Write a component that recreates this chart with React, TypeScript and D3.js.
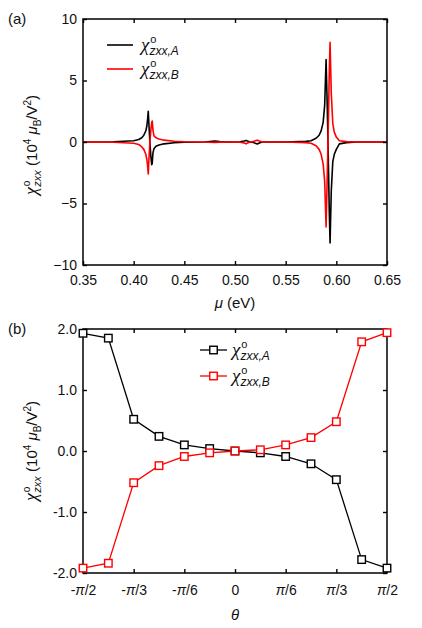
import React, { useEffect, useRef } from "react";
import * as d3 from "d3";

// panel (a): susceptibility vs chemical potential
const mu = [
  0.35, 0.38, 0.40, 0.405, 0.408, 0.410, 0.412, 0.413, 0.4138, 0.4144, 0.4150, 0.4160,
  0.4170, 0.4178, 0.4183, 0.4190, 0.420, 0.422, 0.425, 0.43, 0.44, 0.45, 0.47, 0.475,
  0.48, 0.485, 0.49, 0.50, 0.505, 0.509, 0.511, 0.513, 0.515, 0.518, 0.520, 0.522,
  0.524, 0.527, 0.53, 0.55, 0.57, 0.575, 0.58, 0.583, 0.585, 0.587, 0.5885, 0.5899,
  0.5910, 0.5920, 0.5930, 0.5938, 0.5950, 0.5965, 0.598, 0.600, 0.603, 0.61, 0.62, 0.65,
];
const chiA = [
  0, 0.02, 0.1, 0.2, 0.35, 0.55, 0.9, 1.3, 1.9, 2.5, 1.5, 0,
  -1.2, -1.85, -1.75, -0.9, -0.55, -0.35, -0.25, -0.15, -0.06, -0.02, 0, 0.04,
  0.07, 0.03, 0, 0, 0.02, 0.08, 0.13, 0.05, 0, -0.03, -0.1, -0.16,
  -0.08, 0, 0, 0, 0.05, 0.1, 0.3, 0.55, 0.9, 1.6, 3.0, 6.7,
  3.0, -1.0, -5.5, -8.2, -4.0, -1.6, -1.0, -0.6, -0.15, -0.05, 0, 0,
];
const chiB = [
  0, -0.02, -0.1, -0.2, -0.4, -0.6, -1.0, -1.4, -2.0, -2.6, -1.5, 0,
  1.0, 1.6, 1.7, 1.0, 0.5, 0.35, 0.25, 0.15, 0.06, 0.02, 0, -0.02,
  -0.03, -0.01, 0, 0, -0.02, -0.08, -0.15, -0.05, 0, 0.03, 0.1, 0.15,
  0.08, 0, 0, 0, -0.05, -0.1, -0.3, -0.6, -1.0, -1.8, -3.2, -6.9,
  -3.0, 1.0, 5.5, 8.1, 4.0, 1.5, 0.8, 0.4, 0.1, 0.03, 0, 0,
];
const muTicks = [0.35, 0.4, 0.45, 0.5, 0.55, 0.6, 0.65];
const chiTicks = [-10, -5, 0, 5, 10];

// panel (b): susceptibility vs angle (theta in steps of pi/12)
const thetaSteps = [-6, -5, -4, -3, -2, -1, 0, 1, 2, 3, 4, 5, 6];
const angA = [1.93, 1.85, 0.52, 0.24, 0.1, 0.04, 0, -0.03, -0.09, -0.21, -0.47, -1.78, -1.92];
const angB = [-1.92, -1.84, -0.52, -0.24, -0.09, -0.03, 0, 0.02, 0.1, 0.22, 0.48, 1.79, 1.94];
const angTicks = [-2, -1, 0, 1, 2];
const angTickLabels = ["-2.0", "-1.0", "0.0", "1.0", "2.0"];
const thetaTickSteps = [-6, -4, -2, 0, 2, 4, 6];
const thetaTickLabels = ["-π/2", "-π/3", "-π/6", "0", "π/6", "π/3", "π/2"];

const W = 422;
const H = 628;
const FONT = "'Liberation Sans', Arial, sans-serif";
const SERIF = "'Liberation Serif', 'Times New Roman', serif";
const PLOT_L = 83;
const PLOT_R = 387;

const italicPi = (s: string) => s.replace("π", '<tspan font-style="italic">π</tspan>');

function frame(g: any, x: any, y: any, w: number, h: number, xPad: number) {
  const tick = 4;
  const bottom = g.append("g").attr("transform", `translate(0,${h})`)
    .call(x.axis.tickSizeInner(-tick).tickSizeOuter(0).tickPadding(xPad));
  const left = g.append("g")
    .call(y.axis.tickSizeInner(-tick).tickSizeOuter(0).tickPadding(6));
  g.append("g").call(x.top.tickSizeInner(-tick).tickSizeOuter(0).tickFormat(() => ""));
  g.append("g").attr("transform", `translate(${w},0)`)
    .call(y.right.tickSizeInner(-tick).tickSizeOuter(0).tickFormat(() => ""));
  g.selectAll(".domain").remove();
  g.selectAll(".tick line").attr("stroke", "#000").attr("stroke-width", 1.4);
  [bottom, left].forEach((a) =>
    a.selectAll("text").style("font-size", "14px").style("font-family", FONT).attr("fill", "#111")
  );
  g.append("rect").attr("width", w).attr("height", h)
    .attr("fill", "none").attr("stroke", "#000").attr("stroke-width", 1.5);
  return { bottom, left };
}

const App: React.FC = () => {
  const svgRef = useRef<SVGSVGElement>(null);

  useEffect(() => {
    if (!svgRef.current) return;
    const svg = d3.select(svgRef.current);
    svg.select(".plots").remove();
    const root = svg.append("g").attr("class", "plots");

    // ---------- panel (a)
    const aTop = 19, aBot = 265;
    const xa = d3.scaleLinear().domain([0.35, 0.65]).range([0, PLOT_R - PLOT_L]);
    const ya = d3.scaleLinear().domain([-10, 10]).range([aBot - aTop, 0]);
    const ga = root.append("g").attr("transform", `translate(${PLOT_L},${aTop})`);

    const lineA = d3.line<number>().x((_, i) => xa(mu[i])).y((d) => ya(d));
    ga.append("path").datum(chiA).attr("d", lineA).attr("fill", "none")
      .attr("stroke", "#000").attr("stroke-width", 1.6).attr("stroke-linejoin", "round");
    ga.append("path").datum(chiB).attr("d", lineA).attr("fill", "none")
      .attr("stroke", "#ff0000").attr("stroke-width", 1.6).attr("stroke-linejoin", "round");

    frame(
      ga,
      { axis: d3.axisBottom(xa).tickValues(muTicks).tickFormat(d3.format(".2f")), top: d3.axisTop(xa).tickValues(muTicks) },
      { axis: d3.axisLeft(ya).tickValues(chiTicks).tickFormat(d3.format("d")), right: d3.axisRight(ya).tickValues(chiTicks) },
      PLOT_R - PLOT_L, aBot - aTop, 10
    );

    // ---------- panel (b)
    const bTop = 329, bBot = 573;
    const theta = thetaSteps.map((k) => (k * Math.PI) / 12);
    const xb = d3.scaleLinear().domain([-Math.PI / 2, Math.PI / 2]).range([0, PLOT_R - PLOT_L]);
    const yb = d3.scaleLinear().domain([-2, 2]).range([bBot - bTop, 0]);
    const gb = root.append("g").attr("transform", `translate(${PLOT_L},${bTop})`);

    const thTicks = thetaTickSteps.map((k) => (k * Math.PI) / 12);
    const fb = frame(
      gb,
      { axis: d3.axisBottom(xb).tickValues(thTicks).tickFormat((_, i) => thetaTickLabels[i]), top: d3.axisTop(xb).tickValues(thTicks) },
      { axis: d3.axisLeft(yb).tickValues(angTicks).tickFormat((_, i) => angTickLabels[i]), right: d3.axisRight(yb).tickValues(angTicks) },
      PLOT_R - PLOT_L, bBot - bTop, 12
    );
    fb.bottom.selectAll("text").each(function (this: any, _d: any, i: number) {
      d3.select(this).html(italicPi(thetaTickLabels[i]));
    });

    const lineB = d3.line<number>().x((_, i) => xb(theta[i])).y((d) => yb(d));
    const sq = 7.5;
    [
      { vals: angA, color: "#000" },
      { vals: angB, color: "#ff0000" },
    ].forEach((s) => {
      gb.append("path").datum(s.vals).attr("d", lineB).attr("fill", "none")
        .attr("stroke", s.color).attr("stroke-width", 1.3);
      gb.selectAll(null).data(s.vals).join("rect")
        .attr("x", (_, i) => xb(theta[i]) - sq / 2)
        .attr("y", (d) => yb(d) - sq / 2)
        .attr("width", sq).attr("height", sq)
        .attr("fill", "#fff").attr("stroke", s.color).attr("stroke-width", 1.4);
    });
  }, []);

  const chiLabel = (sub: string, x: number, y: number, key: string) => (
    <text key={key} x={x} y={y} style={{ fontFamily: FONT }} fill="#111">
      <tspan fontFamily={SERIF} fontStyle="italic" fontSize={19}>χ</tspan>
      <tspan fontSize={11} dy={-8} dx={1}>o</tspan>
      <tspan fontSize={12} fontStyle="italic" dx={-7} dy={12}>{sub}</tspan>
    </text>
  );

  const yLabel = (cx: number, cy: number) => (
    <text transform={`translate(${cx},${cy}) rotate(-90)`} textAnchor="middle"
      style={{ fontFamily: FONT, fontSize: 15 }} fill="#111">
      <tspan fontFamily={SERIF} fontStyle="italic" fontSize={18}>χ</tspan>
      <tspan fontSize={10} dy={-7} dx={1}>o</tspan>
      <tspan fontSize={11} fontStyle="italic" dx={-6} dy={11}>zxx</tspan>
      <tspan dy={-4}> (10</tspan>
      <tspan fontSize={10} dy={-6}>4</tspan>
      <tspan dy={6} fontStyle="italic"> μ</tspan>
      <tspan fontSize={10} dy={4}>B</tspan>
      <tspan dy={-4}>/V</tspan>
      <tspan fontSize={10} dy={-6}>2</tspan>
      <tspan dy={6}>)</tspan>
    </text>
  );

  return (
    <svg ref={svgRef} width={W} height={H}
      style={{ position: "absolute", left: 0, top: 0, background: "#fff" }}>
      <text x={8} y={24} style={{ fontFamily: FONT, fontSize: 15 }} fill="#111">(a)</text>
      <text x={8} y={334} style={{ fontFamily: FONT, fontSize: 15 }} fill="#111">(b)</text>

      {yLabel(37, 145)}
      {yLabel(37, 451)}

      <text x={235} y={308} textAnchor="middle" style={{ fontFamily: FONT, fontSize: 15 }} fill="#111">
        <tspan fontStyle="italic">μ</tspan> (eV)
      </text>
      <text x={235} y={620} textAnchor="middle" style={{ fontFamily: FONT, fontSize: 15, fontStyle: "italic" }} fill="#111">θ</text>

      {/* legend (a) */}
      <line x1={107} x2={133} y1={45} y2={45} stroke="#000" strokeWidth={1.6} />
      <line x1={107} x2={133} y1={69} y2={69} stroke="#ff0000" strokeWidth={1.6} />
      {chiLabel("zxx,A", 141, 51, "la")}
      {chiLabel("zxx,B", 141, 75, "lb")}

      {/* legend (b) */}
      <line x1={200} x2={227} y1={350} y2={350} stroke="#000" strokeWidth={1.3} />
      <rect x={209.75} y={346.25} width={7.5} height={7.5} fill="#fff" stroke="#000" strokeWidth={1.4} />
      <line x1={200} x2={227} y1={376} y2={376} stroke="#ff0000" strokeWidth={1.3} />
      <rect x={209.75} y={372.25} width={7.5} height={7.5} fill="#fff" stroke="#ff0000" strokeWidth={1.4} />
      {chiLabel("zxx,A", 232, 356, "lc")}
      {chiLabel("zxx,B", 232, 382, "ld")}
    </svg>
  );
};

export default App;
